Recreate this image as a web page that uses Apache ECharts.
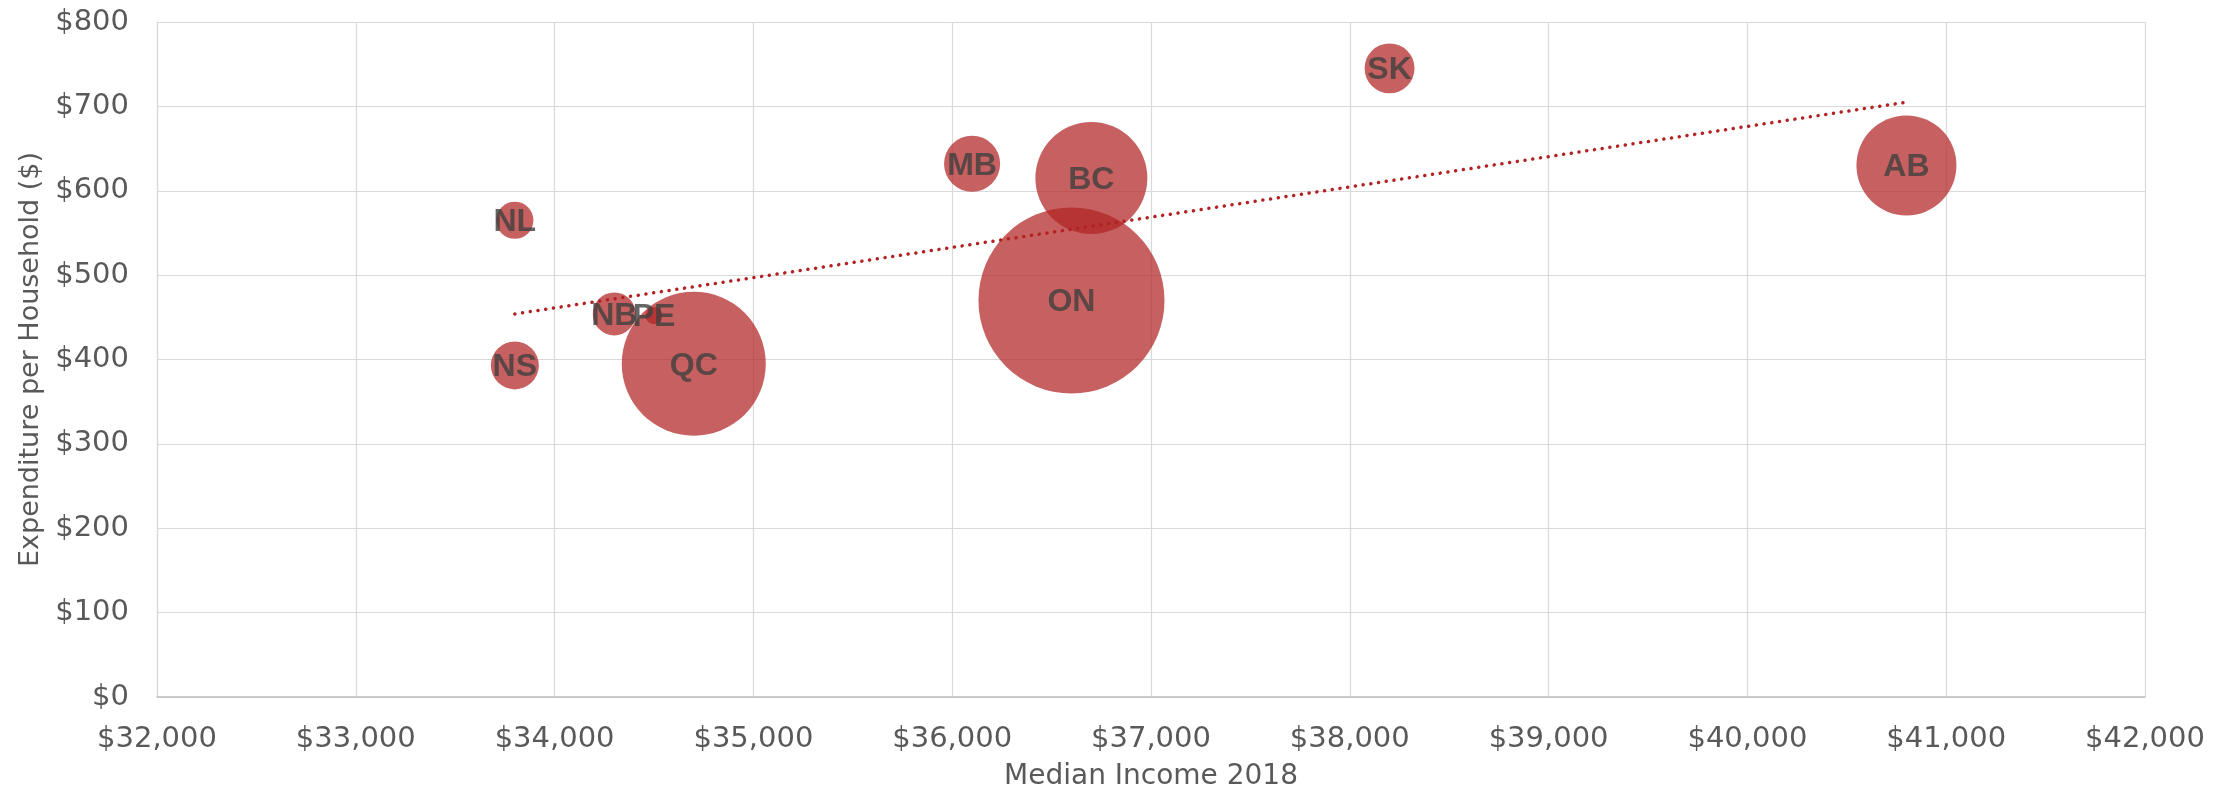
<!DOCTYPE html>
<html lang="en">
<head>
    <meta charset="UTF-8">
    <title>Expenditure per Household vs Median Income</title>
    <script src="https://cdn.jsdelivr.net/npm/echarts@6/dist/echarts.min.js"></script>
    <style>
        body { margin: 0; background: #ffffff; }
        #chart { width: 2221px; height: 796px; }
    </style>
</head>
<body>
    <div id="chart"></div>
    <script>
        // provinces, median income 2018 (x), expenditure per household (y), bubble size (population, millions)
        const provinces = ['NL', 'PE', 'NS', 'NB', 'QC', 'ON', 'MB', 'SK', 'AB', 'BC'];
        const medianIncome = [33800, 34500, 33800, 34300, 34700, 36600, 36100, 38200, 40800, 36700];
        const expenditure = [565, 452, 393, 454, 395, 470, 632, 745, 630, 615];
        const bubbleSize = [0.57, 0.12, 0.95, 0.76, 8.57, 14.3, 1.30, 1.03, 4.13, 5.18];

        // trend line end points
        const trendX = [33800, 40800];
        const trendY = [454, 705];

        const textGrey = '#595959';
        const bubbleRed = '#B22222';

        function money(v) {
            return '$' + String(v).replace(/\B(?=(\d{3})+(?!\d))/g, ',');
        }

        const points = provinces.map((p, i) => [medianIncome[i], expenditure[i], bubbleSize[i], p]);

        let chart = echarts.init(document.getElementById('chart'));

        chart.setOption({
            backgroundColor: '#ffffff',
            animation: false,
            grid: { left: 157, right: 76, top: 22, bottom: 99, outerBoundsMode: 'none' },
            xAxis: {
                type: 'value',
                min: 32000, max: 42000, interval: 1000,
                name: 'Median Income 2018',
                nameLocation: 'middle',
                nameGap: 66,
                nameTextStyle: { color: textGrey, fontSize: 28, fontFamily: 'DejaVu Sans' },
                axisLine: { show: true, lineStyle: { color: '#bfbfbf', width: 1.5 } },
                axisTick: { show: false },
                axisLabel: {
                    color: textGrey, fontSize: 29, fontFamily: 'DejaVu Sans', margin: 28,
                    formatter: v => money(v)
                },
                splitLine: { show: true, lineStyle: { color: '#d9d9d9', width: 1.2 } }
            },
            yAxis: {
                type: 'value',
                min: 0, max: 800, interval: 100,
                name: 'Expenditure per Household ($)',
                nameLocation: 'middle',
                nameGap: 112,
                nameTextStyle: { color: textGrey, fontSize: 27, fontFamily: 'DejaVu Sans' },
                axisLine: { show: true, lineStyle: { color: '#d9d9d9', width: 1.2 } },
                axisTick: { show: false },
                axisLabel: {
                    color: textGrey, fontSize: 29, fontFamily: 'DejaVu Sans', margin: 28,
                    formatter: v => '$' + v
                },
                splitLine: { show: true, lineStyle: { color: '#d9d9d9', width: 1.2 } }
            },
            series: [
                {
                    name: 'Provinces',
                    type: 'scatter',
                    data: points,
                    symbolSize: d => 49.2 * Math.sqrt(d[2]),
                    itemStyle: { color: bubbleRed, opacity: 0.72 },
                    z: 2
                },
                {
                    name: 'Trend',
                    type: 'line',
                    data: trendX.map((x, i) => [x, trendY[i]]),
                    symbol: 'none',
                    lineStyle: { color: bubbleRed, width: 3.5, type: [0.1, 7.7], cap: 'round' },
                    z: 3
                },
                {
                    name: 'Labels',
                    type: 'scatter',
                    data: points,
                    symbolSize: 1,
                    itemStyle: { color: 'rgba(0,0,0,0)' },
                    label: {
                        show: true,
                        position: 'inside',
                        offset: [0, 2],
                        formatter: p => p.data[3],
                        color: '#404040',
                        fontSize: 32,
                        fontWeight: 'bold',
                        fontFamily: 'Liberation Sans'
                    },
                    z: 4
                }
            ]
        });
    </script>
</body>
</html>
